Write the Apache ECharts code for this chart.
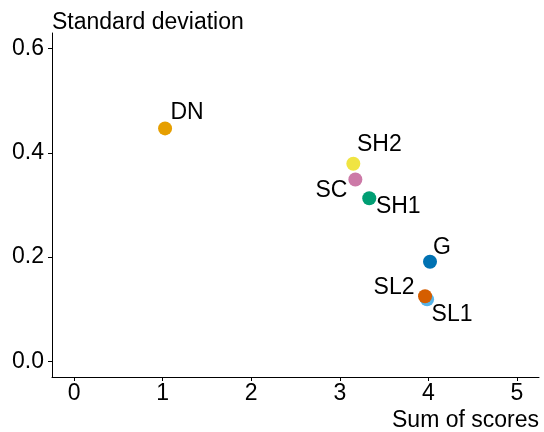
<!DOCTYPE html>
<html>
<head>
<meta charset="utf-8">
<script src="https://cdn.jsdelivr.net/npm/echarts@6/dist/echarts.min.js"></script>
<style>
html,body{margin:0;padding:0;background:#fff;}
#chart{width:544px;height:432px;}
</style>
</head>
<body>
<div id="chart"></div>
<script>
// Data
var names = ['DN', 'G', 'SC', 'SH1', 'SH2', 'SL1', 'SL2'];
var sumScores = [1.027, 4.019, 3.176, 3.333, 3.153, 3.986, 3.963];
var stdDev = [0.447, 0.191, 0.349, 0.313, 0.379, 0.119, 0.125];
var colors = ['#E69F00', '#0072B2', '#CC79A7', '#009E73', '#F0E442', '#56B4E9', '#D55E00'];
var labelOffsets = [[22, -16], [12, -14], [-24, 11], [29, 8], [26, -19], [25, 15], [-31, -9]];
var xTicks = [0, 1, 2, 3, 4, 5];
var yTicks = [0, 0.2, 0.4, 0.6];

var font = "'Liberation Sans', Arial, Helvetica, sans-serif";
var symSize = 14;
var chart = echarts.init(document.getElementById('chart'));

var data = names.map(function (n, i) {
  return {
    name: n,
    value: [sumScores[i], stdDev[i]],
    itemStyle: { color: colors[i], opacity: 1 },
    label: { position: [symSize / 2 + labelOffsets[i][0], symSize / 2 + labelOffsets[i][1]] }
  };
});

chart.setOption({
  animation: false,
  backgroundColor: '#fff',
  grid: { left: 52, right: 5, top: 33, bottom: 53, containLabel: false },
  xAxis: {
    type: 'value',
    min: -0.25,
    max: 5.25,
    name: 'Sum of scores',
    nameLocation: 'end',
    nameGap: 0,
    nameTextStyle: { color: '#000', fontSize: 23, fontFamily: font, align: 'right', verticalAlign: 'top', padding: [32, 0, 0, 0] },
    splitLine: { show: false },
    axisLine: { show: true, onZero: false, lineStyle: { color: '#000', width: 1 } },
    axisTick: { show: true, length: 4, lineStyle: { color: '#000' }, customValues: xTicks },
    axisLabel: { color: '#000', fontSize: 23, fontFamily: font, margin: 5, customValues: xTicks,
      formatter: function (v) { return String(v); } }
  },
  yAxis: {
    type: 'value',
    min: -0.03,
    max: 0.63,
    name: 'Standard deviation',
    nameLocation: 'end',
    nameGap: 10,
    nameTextStyle: { color: '#000', fontSize: 23, fontFamily: font, align: 'left', verticalAlign: 'middle' },
    splitLine: { show: false },
    axisLine: { show: true, onZero: false, lineStyle: { color: '#000', width: 1 } },
    axisTick: { show: true, length: 4, lineStyle: { color: '#000' }, customValues: yTicks },
    axisLabel: { color: '#000', fontSize: 23, fontFamily: font, margin: 8, customValues: yTicks,
      formatter: function (v) { return v.toFixed(1); } }
  },
  series: [{
    type: 'scatter',
    symbol: 'circle',
    symbolSize: symSize,
    itemStyle: { opacity: 1 },
    data: data,
    label: {
      show: true,
      align: 'center',
      verticalAlign: 'middle',
      color: '#000',
      opacity: 1,
      textBorderWidth: 0,
      fontSize: 23,
      fontFamily: font,
      formatter: function (p) { return p.name; }
    },
    labelLayout: { hideOverlap: false },
    emphasis: { disabled: true }
  }]
});
</script>
</body>
</html>
